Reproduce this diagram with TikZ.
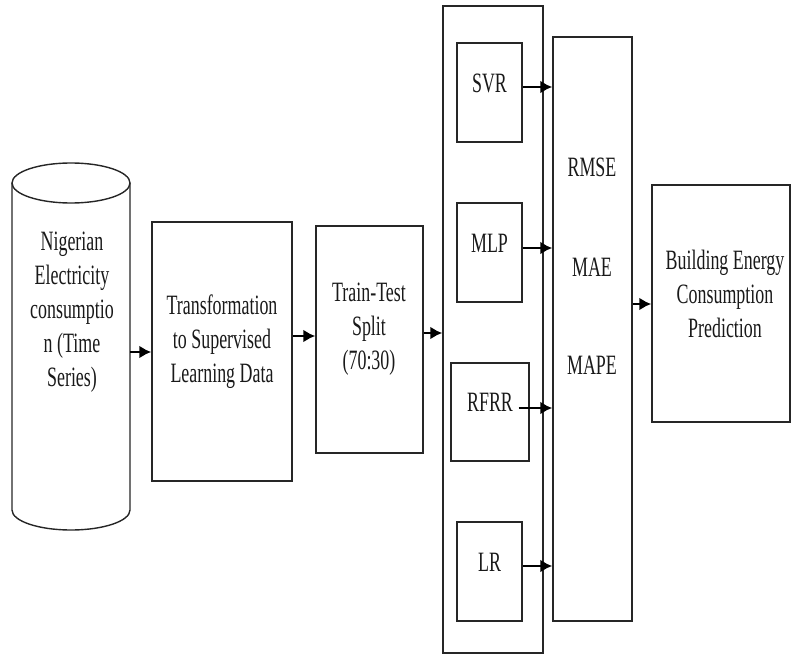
\documentclass[tikz,border=0pt]{standalone}
\usepackage{fontspec}
\setmainfont{Liberation Serif}[FakeStretch=0.64]
\usetikzlibrary{arrows.meta}
\begin{document}
\begin{tikzpicture}[x=1pt,y=1pt,
  box/.style={draw=black!85, line width=1.4pt, inner sep=0pt},
  lbl/.style={align=center, font=\fontsize{28}{34}\selectfont, text=black!90, inner sep=0pt},
  arr/.style={line width=2.4pt, -{Latex[length=12pt,width=13pt]}, black}]
\useasboundingbox (0,0) rectangle (792,-655);
% cylinder
\draw[black!85, line width=1.4pt] (71,-183) ellipse [x radius=59pt, y radius=20pt];
\draw[black!85, line width=1.4pt] (12,-183) -- (12,-510) arc[start angle=180, end angle=360, x radius=59pt, y radius=20pt] -- (130,-183);
\node[inner sep=0pt, minimum width=118pt, minimum height=327pt] (data) at (71,-346.5) {};
\node[lbl] (datatext) at (72,-312) {Nigerian\\Electricity\\consumptio\\n (Time\\Series)};
% boxes
\node[box, minimum width=140pt, minimum height=259pt] (trans) at (222,-351.5) {};
\node[lbl] (transtext) at (222,-342) {Transformation\\to Supervised\\Learning Data};
\node[box, minimum width=107pt, minimum height=227pt] (train) at (369.5,-339.5) {};
\node[lbl] (traintext) at (369,-329) {Train-Test\\Split\\(70:30)};
\node[box, minimum width=100pt, minimum height=647pt] (models) at (493,-329.5) {};
\node[box, minimum width=65pt, minimum height=99pt] (svr) at (489.5,-92.5) {};
\node[lbl] (svrtext) at (489.5,-83) {SVR};
\node[box, minimum width=65pt, minimum height=99pt] (mlp) at (489.5,-252.5) {};
\node[lbl] (mlptext) at (489.5,-243) {MLP};
\node[box, minimum width=78pt, minimum height=98pt] (rfrr) at (490,-412) {};
\node[lbl] (rfrrtext) at (490,-402) {RFRR};
\node[box, minimum width=65pt, minimum height=99pt] (lr) at (489.5,-571.5) {};
\node[lbl] (lrtext) at (489.5,-562) {LR};
\node[box, minimum width=79pt, minimum height=584pt] (metrics) at (592.5,-329) {};
\node[lbl] (rmse) at (592,-167) {RMSE};
\node[lbl] (mae) at (592,-267) {MAE};
\node[lbl] (mape) at (592,-365) {MAPE};
\node[box, minimum width=138pt, minimum height=237pt] (pred) at (721,-303.5) {};
\node[lbl] (predtext) at (725,-294) {Building Energy\\Consumption\\Prediction};
% arrows
\draw[arr] (data.east |- 0,-352) -- (trans.west |- 0,-352);
\draw[arr] (trans.east |- 0,-336) -- (train.west |- 0,-336);
\draw[arr] (train.east |- 0,-333) -- (models.west |- 0,-333);
\draw[arr] (svr.east |- 0,-87) -- (metrics.west |- 0,-87);
\draw[arr] (mlp.east |- 0,-248) -- (metrics.west |- 0,-248);
\draw[arr, shorten <=-11pt] (rfrr.east |- 0,-408) -- (metrics.west |- 0,-408);
\draw[arr] (lr.east |- 0,-566) -- (metrics.west |- 0,-566);
\draw[arr] (metrics.east |- 0,-304) -- (pred.west |- 0,-304);
\end{tikzpicture}
\end{document}
